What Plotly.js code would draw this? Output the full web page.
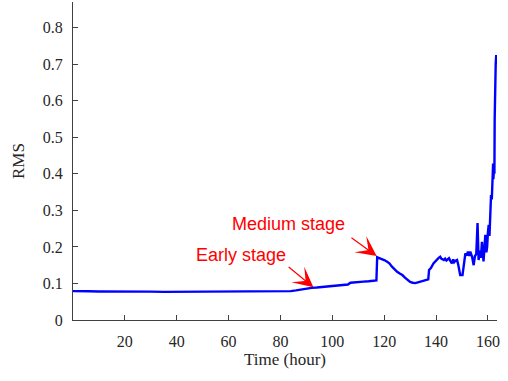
<!DOCTYPE html>
<html>
<head>
<meta charset="utf-8">
<script src="https://cdn.plot.ly/plotly-3.0.1.min.js"></script>
<style>html,body{margin:0;padding:0;background:#fff;}#chart{width:508px;height:381px;}</style>
</head>
<body>
<div id="chart"></div>
<script>
// Time (hour)
const timeHours = [0, 3, 6, 10, 14, 18, 22, 26, 30, 35, 40, 45, 50, 55, 60, 65, 70, 75, 80, 84, 86, 88, 90, 92, 94, 96, 98, 100, 102, 104, 106, 107, 108, 110, 112, 114, 116, 117, 117.3, 118, 119, 120, 121, 122, 123, 124, 125, 126, 127, 128, 129, 130, 131, 132, 133, 134, 135, 136, 137, 137.3, 138, 139, 140, 141, 141.6, 142, 143, 143.5, 144, 145, 145.5, 146.1, 146.6, 147, 147.5, 148.1, 148.6, 149.3, 150.2, 150.7, 151.3, 151.8, 152.3, 152.8, 153.2, 153.9, 154.5, 155, 155.5, 156, 156.4, 156.9, 157.3, 157.7, 158.3, 158.7, 159, 159.4, 159.7, 160, 160.3, 160.6, 160.9, 161.2, 161.5, 161.8, 162, 162.1, 162.3, 162.5, 162.6, 162.7, 162.9, 163, 163.2, 163.3];
// RMS values
const rmsValues = [0.079, 0.078, 0.0785, 0.078, 0.0775, 0.077, 0.078, 0.077, 0.0775, 0.077, 0.077, 0.0775, 0.077, 0.077, 0.077, 0.0775, 0.077, 0.077, 0.0775, 0.079, 0.081, 0.084, 0.086, 0.088, 0.089, 0.090, 0.091, 0.092, 0.093, 0.095, 0.097, 0.102, 0.103, 0.104, 0.105, 0.106, 0.107, 0.108, 0.1715, 0.170, 0.166, 0.164, 0.160, 0.155, 0.146, 0.138, 0.132, 0.127, 0.123, 0.116, 0.109, 0.104, 0.102, 0.101, 0.103, 0.105, 0.107, 0.109, 0.111, 0.137, 0.142, 0.155, 0.164, 0.170, 0.173, 0.168, 0.164, 0.168, 0.163, 0.169, 0.162, 0.155, 0.166, 0.158, 0.162, 0.164, 0.150, 0.123, 0.123, 0.150, 0.182, 0.176, 0.187, 0.175, 0.187, 0.173, 0.150, 0.175, 0.180, 0.265, 0.164, 0.190, 0.170, 0.214, 0.160, 0.200, 0.233, 0.185, 0.200, 0.240, 0.260, 0.230, 0.296, 0.342, 0.330, 0.370, 0.428, 0.385, 0.410, 0.400, 0.550, 0.674, 0.650, 0.700, 0.725, 0.700];

const yTickVals = [0, 0.1, 0.2, 0.3, 0.4, 0.5, 0.6, 0.7, 0.8];
const yTickText = ['0', '0.1', '0.2', '0.3', '0.4', '0.5', '0.6', '0.7', '0.8'];
const xTickVals = [20, 40, 60, 80, 100, 120, 140, 160];
const xTickText = ['20', '40', '60', '80', '100', '120', '140', '160'];

const serif = 'Liberation Serif, Times New Roman, serif';
const sans = 'Liberation Sans, Arial, sans-serif';
const axisColor = '#404040';

const trace = {
  x: timeHours, y: rmsValues, type: 'scatter', mode: 'lines',
  line: {color: '#0000ff', width: 2.4}, hoverinfo: 'skip'
};

const layout = {
  width: 508, height: 381,
  margin: {l: 73, r: 11, t: 2, b: 61, pad: 0},
  paper_bgcolor: '#ffffff', plot_bgcolor: '#ffffff',
  showlegend: false,
  xaxis: {
    range: [0, 163.5], showgrid: false, zeroline: false,
    showline: true, linecolor: axisColor, linewidth: 1,
    ticks: 'inside', ticklen: 5, tickcolor: axisColor, tickwidth: 1,
    tickvals: xTickVals, ticktext: xTickText, ticklabelstandoff: 7,
    tickfont: {family: serif, size: 16, color: '#262626'},
    title: {text: 'Time (hour)', font: {family: serif, size: 17, color: '#262626'}, standoff: 2}
  },
  yaxis: {
    range: [0, 0.87], showgrid: false, zeroline: false,
    showline: true, linecolor: axisColor, linewidth: 1,
    ticks: 'inside', ticklen: 5, tickcolor: axisColor, tickwidth: 1,
    tickvals: yTickVals, ticktext: yTickText, ticklabelstandoff: 6,
    tickfont: {family: serif, size: 16, color: '#262626'},
    title: {text: 'RMS', font: {family: serif, size: 17, color: '#262626'}, standoff: 13}
  },
  annotations: [
    {x: 64.6, y: 0.179, xref: 'x', yref: 'y', text: 'Early stage', showarrow: false,
     font: {family: sans, size: 18, color: '#ff0000'}},
    {x: 83.1, y: 0.2627, xref: 'x', yref: 'y', text: 'Medium stage', showarrow: false,
     font: {family: sans, size: 18, color: '#ff0000'}},
    {x: 92.7, y: 0.0895, xref: 'x', yref: 'y', axref: 'x', ayref: 'y', ax: 82.6, ay: 0.1486,
     text: '', showarrow: true, arrowhead: 3, arrowsize: 2.8, arrowwidth: 1.2, arrowcolor: '#ff0000', standoff: 0},
    {x: 117.1, y: 0.175, xref: 'x', yref: 'y', axref: 'x', ayref: 'y', ax: 106.8, ay: 0.228,
     text: '', showarrow: true, arrowhead: 3, arrowsize: 2.8, arrowwidth: 1.2, arrowcolor: '#ff0000', standoff: 0}
  ]
};

Plotly.newPlot('chart', [trace], layout, {staticPlot: true, displayModeBar: false});
</script>
</body>
</html>
